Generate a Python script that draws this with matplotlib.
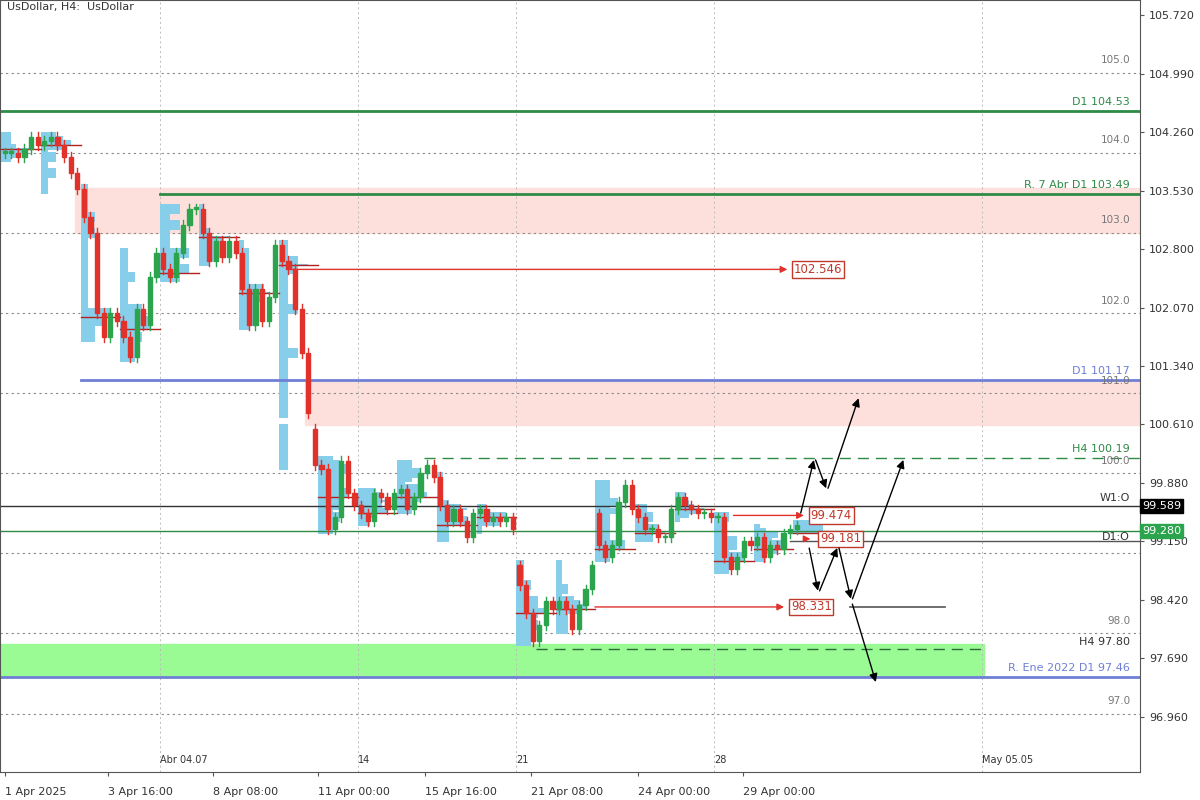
import numpy as np
import matplotlib.pyplot as plt
from matplotlib.patches import Rectangle

# H4 closes, one per bar (weekends and Good Friday skipped)
closes = [104.0, 104.0, 103.95, 104.05, 104.2, 104.1, 104.15, 104.2, 104.1, 103.95, 103.75, 103.55,
          103.2, 103.0, 102.0, 101.7, 102.0, 101.9, 101.7, 101.45, 102.05, 101.85, 102.45, 102.75,
          102.55, 102.45, 102.75, 103.1, 103.3, 103.3, 103.0, 102.65, 102.9, 102.7, 102.9, 102.75,
          102.3, 101.85, 102.3, 101.9, 102.2, 102.85, 102.65, 102.55, 102.05, 101.5, 100.75, 100.1,
          100.05, 99.3, 99.45, 100.15, 99.75, 99.6, 99.5, 99.4, 99.75, 99.7, 99.55, 99.75,
          99.8, 99.55, 99.7, 100.0, 100.1, 99.95, 99.6, 99.4, 99.55, 99.4, 99.2, 99.5,
          99.55, 99.4, 99.45, 99.4, 99.45, 99.3, 98.6, 98.25, 97.9, 98.1, 98.4, 98.3,
          98.4, 98.3, 98.05, 98.35, 98.55, 98.85, 99.1, 98.95, 99.1, 99.64, 99.85, 99.55,
          99.45, 99.3, 99.3, 99.2, 99.2, 99.55, 99.7, 99.6, 99.55, 99.5, 99.5, 99.45,
          99.45, 98.95, 98.8, 98.95, 99.15, 99.1, 99.2, 98.95, 99.1, 99.05, 99.25, 99.3, 99.35]
gap_opens = {47: 100.55, 78: 98.85, 90: 99.5}
wick = 0.06

tick_bars = [0, 15.7, 31.5, 47.5, 63.7, 79.8, 95.9, 111.8]
tick_text = ['1 Apr 2025', '3 Apr 16:00', '8 Apr 08:00', '11 Apr 00:00',
             '15 Apr 16:00', '21 Apr 08:00', '24 Apr 00:00', '29 Apr 00:00']
week_bars = [24, 54, 78, 108, 148.5]
week_text = ['Abr 04.07', '14', '21', '28', 'May 05.05']
price_ticks = [105.720, 104.990, 104.260, 103.530, 102.800, 102.070, 101.340, 100.610,
               99.880, 99.150, 98.420, 97.690, 96.960]
grid_levels = [105.0, 104.0, 103.0, 102.0, 101.0, 100.0, 99.0, 98.0, 97.0]

opens = [closes[0]] + closes[:-1]
for k, v in gap_opens.items():
    opens[k] = v

fig = plt.figure(figsize=(12, 8), dpi=100)
ax = fig.add_axes([0.0, 0.035, 0.95, 0.965])
ax.set_xlim(-0.7, 172)
ax.set_ylim(96.27, 105.91)

GREEN = '#2e8b46'
BLUE = '#6f7fd6'
PINK = '#fde0dc'

# zones
ax.add_patch(Rectangle((10.6, 103.0), 172, 0.56, color=PINK, zorder=0))
ax.add_patch(Rectangle((45.5, 100.6), 140, 0.57, color=PINK, zorder=0))
ax.add_patch(Rectangle((-1, 97.46), 149.3, 0.41, color='#9afa94', zorder=0))

# grid
for g in grid_levels:
    ax.axhline(g, color='#888888', ls=(0, (2, 3)), lw=0.8, zorder=0.5)
    if g != 99.0:
        ax.text(170.5, g + 0.12, f'{g:.1f}', ha='right', fontsize=7.5, color='#777777')
for w in week_bars:
    ax.axvline(w - 0.5, color='#bbbbbb', ls=(0, (2, 3)), lw=0.7, zorder=0.5)

# volume profiles per day
for s in range(0, len(closes), 6):
    sess = range(s, min(s + 6, len(closes)))
    bins = np.arange(96.0, 106.0, 0.025)
    hist = np.zeros(len(bins))
    for i in sess:
        lo = min(opens[i], closes[i]) - wick
        hi = max(opens[i], closes[i]) + wick
        hist += (bins >= lo) & (bins <= hi)
    if hist.max() == 0:
        continue
    widths = hist / hist.max() * 4.5
    m = hist > 0
    ax.barh(bins[m], widths[m], left=s - 0.5, height=0.025, color='#87ceeb', zorder=1)
    poc = bins[np.argmax(hist)]
    ax.plot([s - 0.5, s + 5.5], [poc, poc], color='#b22222', lw=1, zorder=3)

# candles
for i, (o, c) in enumerate(zip(opens, closes)):
    col = '#2ca44e' if c >= o else '#e0312b'
    ax.plot([i, i], [min(o, c) - wick, max(o, c) + wick], color=col, lw=1, zorder=4)
    ax.add_patch(Rectangle((i - 0.32, min(o, c)), 0.64, max(abs(c - o), 0.02), color=col, zorder=4))

# levels
ax.axhline(104.53, color=GREEN, lw=2, zorder=2)
ax.text(170.5, 104.6, 'D1 104.53', ha='right', fontsize=8, color=GREEN)
ax.plot([23.5, 172], [103.49, 103.49], color=GREEN, lw=2, zorder=2)
ax.text(170.5, 103.56, 'R. 7 Abr D1 103.49', ha='right', fontsize=8, color=GREEN)
ax.plot([11.5, 172], [101.17, 101.17], color=BLUE, lw=2, zorder=2)
ax.text(170.5, 101.24, 'D1 101.17', ha='right', fontsize=8, color=BLUE)
ax.plot([63.5, 172], [100.19, 100.19], color=GREEN, lw=1, ls=(0, (8, 5)), zorder=2)
ax.text(170.5, 100.26, 'H4 100.19', ha='right', fontsize=8, color=GREEN)
ax.axhline(99.589, color='#333333', lw=1, zorder=2)
ax.text(170.5, 99.66, 'W1:O', ha='right', fontsize=8, color='#333333')
ax.axhline(99.280, color=GREEN, lw=1, zorder=2)
ax.text(170.5, 99.2, 'D1:O', ha='right', va='center', fontsize=8, color='#333333')
ax.plot([119, 172], [99.15, 99.15], color='#555555', lw=1, zorder=2)
ax.plot([80.5, 148], [97.80, 97.80], color='#2a6b3a', lw=1, ls=(0, (8, 5)), zorder=2)
ax.text(170.5, 97.85, 'H4 97.80', ha='right', fontsize=8, color='#333333')
ax.axhline(97.46, color=BLUE, lw=2, zorder=2)
ax.text(170.5, 97.53, 'R. Ene 2022 D1 97.46', ha='right', fontsize=8, color=BLUE)
ax.plot([128, 142.5], [98.331, 98.331], color='#555555', lw=1.2, zorder=2)

# red target arrows with labels
for x0, x1, y, lab in [(43, 119, 102.546, '102.546'), (110, 121.5, 99.474, '99.474'),
                       (121, 122.5, 99.181, '99.181'), (89, 118.5, 98.331, '98.331')]:
    ax.annotate('', xy=(x1, y), xytext=(x0, y),
                arrowprops=dict(arrowstyle='-|>', color='#e0312b', lw=1), zorder=5)
    lx = x1 + 0.6 if lab != '99.181' else 123.5
    ax.text(lx, y, lab, va='center', fontsize=8.5, color='#c0392b', zorder=6,
            bbox=dict(boxstyle='square,pad=0.15', fc='white', ec='#c0392b', lw=1))

# scenario arrows
paths = [[(120.5, 99.47), (122.7, 100.2), (124.6, 99.78), (129.5, 100.97)],
         [(121.8, 99.1), (123.3, 98.5), (126.3, 99.1), (128.3, 98.4), (136.3, 100.2)],
         [(128.3, 98.4), (132.1, 97.36)]]
for p in paths:
    for (xa, ya), (xb, yb) in zip(p[:-1], p[1:]):
        ax.annotate('', xy=(xb, yb), xytext=(xa, ya),
                    arrowprops=dict(arrowstyle='-|>', color='black', lw=1, mutation_scale=12), zorder=6)

# axes style
ax.yaxis.tick_right()
ax.set_yticks(price_ticks)
ax.set_yticklabels([f'{p:.3f}' for p in price_ticks], fontsize=8, color='#333333')
ax.set_xticks(tick_bars)
ax.set_xticklabels(tick_text, fontsize=8, color='#333333', ha='left')
ax.set_xticks([w - 0.5 for w in week_bars], minor=True)
ax.set_xticklabels(week_text, minor=True, fontsize=7, color='#333333', ha='left')
ax.tick_params(axis='x', which='major', pad=8, length=3, color='#555555')
ax.tick_params(axis='x', which='minor', pad=-12, length=0)
ax.tick_params(axis='y', length=3, color='#555555')
for sp in ax.spines.values():
    sp.set_color('#555555')
ax.text(0.3, 105.78, 'UsDollar, H4:  UsDollar', fontsize=8, color='#333333')

for y, lab, col in [(99.589, '99.589', 'black'), (99.280, '99.280', '#2ca44e')]:
    ax.text(172.3, y, lab, va='center', fontsize=8, color='white', clip_on=False,
            bbox=dict(boxstyle='square,pad=0.2', fc=col, ec=col))

fig.savefig('out.png')
